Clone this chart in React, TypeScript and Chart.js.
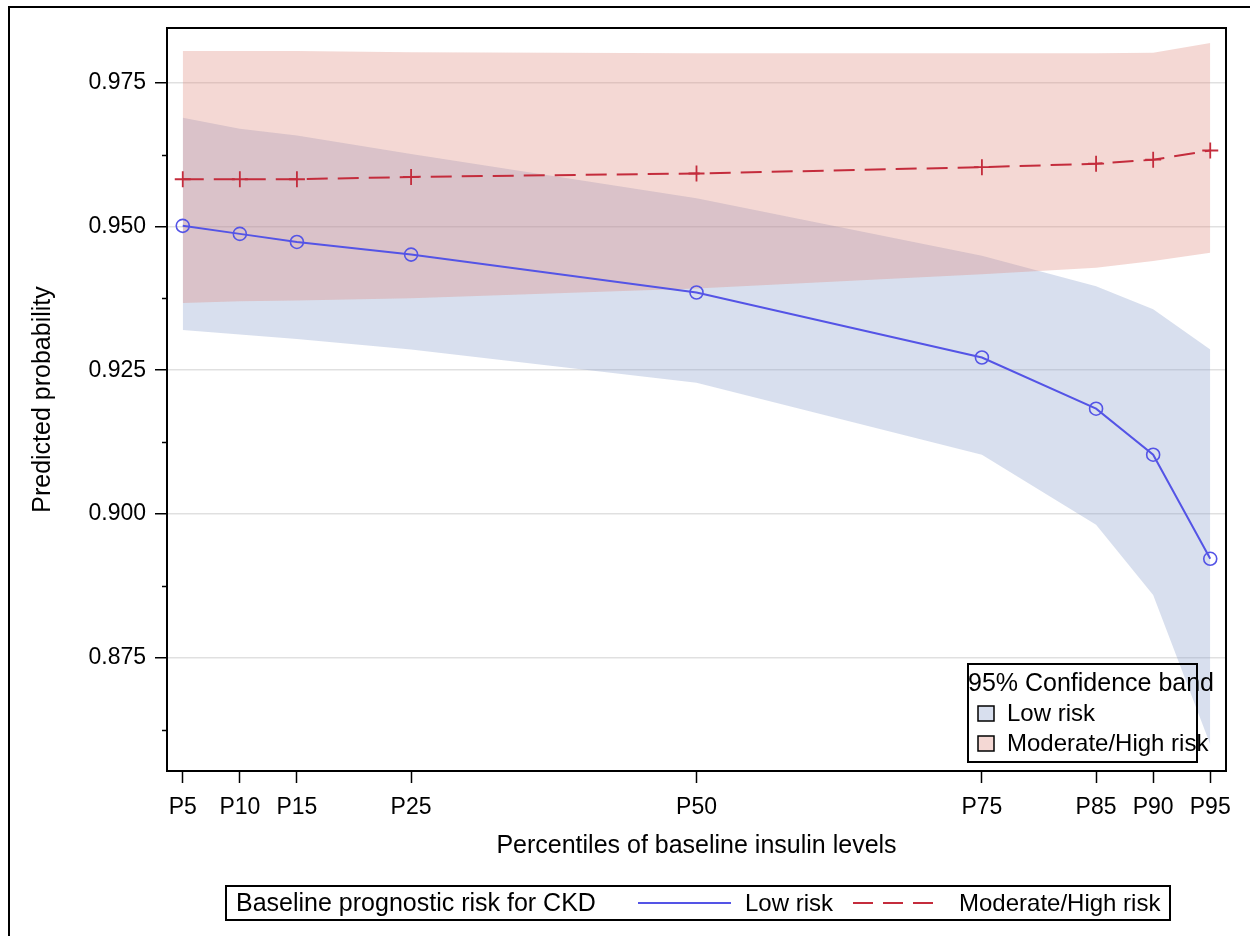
import React, { useEffect, useRef } from "react";
import { Chart, registerables } from "chart.js";

Chart.register(...registerables);

// ---- data ----
const percentiles = [5, 10, 15, 25, 50, 75, 85, 90, 95];
const percentileLabels = ["P5", "P10", "P15", "P25", "P50", "P75", "P85", "P90", "P95"];

const lowRisk = [0.9501, 0.9487, 0.9473, 0.9451, 0.9385, 0.9272, 0.9183, 0.9103, 0.8922];
const lowUpper = [0.9689, 0.967, 0.9658, 0.9626, 0.9549, 0.9449, 0.9396, 0.9356, 0.9286];
const lowLower = [0.932, 0.9312, 0.9304, 0.9286, 0.9228, 0.9103, 0.8981, 0.8859, 0.8599];

const modRisk = [0.9582, 0.9582, 0.9582, 0.9586, 0.9592, 0.9603, 0.9609, 0.9616, 0.9632];
const modUpper = [0.9805, 0.9805, 0.9805, 0.9803, 0.9801, 0.9801, 0.9801, 0.9802, 0.9819];
const modLower = [0.9367, 0.937, 0.9371, 0.9375, 0.9392, 0.9417, 0.9428, 0.944, 0.9454];

const yMajorTicks = [0.875, 0.9, 0.925, 0.95, 0.975];
const yMinorTicks = [0.8625, 0.8875, 0.9125, 0.9375, 0.9625];

const xTitle = "Percentiles of baseline insulin levels";
const yTitle = "Predicted probability";
const bandLegendTitle = "95% Confidence band";
const groupLegendTitle = "Baseline prognostic risk for CKD";
const groupNames = ["Low risk", "Moderate/High risk"];

// ---- styles ----
const FONT = '"Liberation Sans", Arial, sans-serif';
const LOW_LINE = "rgb(84,84,230)";
const MOD_LINE = "rgb(196,44,60)";
const LOW_BAND = "rgba(133,155,202,0.32)";
const MOD_BAND = "rgba(221,133,121,0.32)";
const LOW_SWATCH = "rgb(216,223,238)";
const MOD_SWATCH = "rgb(244,216,212)";

const pts = (vals: number[]) => percentiles.map((p, i) => ({ x: p, y: vals[i] }));

const decorPlugin = {
  id: "decor",
  afterDraw(chart: any) {
    const ctx = chart.ctx as CanvasRenderingContext2D;
    const a = chart.chartArea;
    const yScale = chart.scales.y;
    ctx.save();
    // outer frame
    ctx.strokeStyle = "#000";
    ctx.lineWidth = 2;
    ctx.strokeRect(9, 7, 1400, 1100);
    // plot frame
    ctx.strokeRect(a.left, a.top, a.right - a.left, a.bottom - a.top);
    // minor y ticks
    ctx.lineWidth = 1.5;
    yMinorTicks.forEach((v) => {
      const py = Math.round(yScale.getPixelForValue(v)) + 0.5;
      ctx.beginPath();
      ctx.moveTo(a.left - 5, py);
      ctx.lineTo(a.left, py);
      ctx.stroke();
    });

    // inner legend (confidence band)
    ctx.fillStyle = "#000";
    ctx.textBaseline = "middle";
    ctx.textAlign = "left";
    ctx.lineWidth = 2;
    ctx.strokeRect(968, 664, 229, 98);
    ctx.font = `25px ${FONT}`;
    ctx.fillText(bandLegendTitle, 968, 684);
    ctx.lineWidth = 1.5;
    ctx.fillStyle = LOW_SWATCH;
    ctx.fillRect(978, 706, 16, 15);
    ctx.strokeRect(978, 706, 16, 15);
    ctx.fillStyle = MOD_SWATCH;
    ctx.fillRect(978, 736, 16, 15);
    ctx.strokeRect(978, 736, 16, 15);
    ctx.fillStyle = "#000";
    ctx.font = `24px ${FONT}`;
    ctx.fillText(groupNames[0], 1007, 714);
    ctx.fillText(groupNames[1], 1007, 744);

    // bottom legend
    ctx.lineWidth = 2;
    ctx.strokeRect(226, 886, 944, 34);
    ctx.font = `25px ${FONT}`;
    ctx.fillText(groupLegendTitle, 236, 904);
    ctx.font = `24px ${FONT}`;
    ctx.strokeStyle = LOW_LINE;
    ctx.lineWidth = 2;
    ctx.beginPath();
    ctx.moveTo(638, 903);
    ctx.lineTo(731, 903);
    ctx.stroke();
    ctx.fillText(groupNames[0], 745, 904);
    ctx.strokeStyle = MOD_LINE;
    ctx.setLineDash([20, 10]);
    ctx.beginPath();
    ctx.moveTo(853, 903);
    ctx.lineTo(940, 903);
    ctx.stroke();
    ctx.setLineDash([]);
    ctx.fillText(groupNames[1], 959, 904);
    ctx.restore();
  },
};

export default function App() {
  const ref = useRef<HTMLCanvasElement | null>(null);

  useEffect(() => {
    if (!ref.current) return;
    Chart.defaults.font.family = FONT;
    const chart = new Chart(ref.current, {
      type: "line",
      data: {
        datasets: [
          {
            label: "Low band upper",
            data: pts(lowUpper),
            borderWidth: 0,
            pointRadius: 0,
            backgroundColor: LOW_BAND,
            fill: "+1",
            order: 3,
            tension: 0,
          },
          {
            label: "Low band lower",
            data: pts(lowLower),
            borderWidth: 0,
            pointRadius: 0,
            fill: false,
            order: 3,
            tension: 0,
          },
          {
            label: "Mod band upper",
            data: pts(modUpper),
            borderWidth: 0,
            pointRadius: 0,
            backgroundColor: MOD_BAND,
            fill: "+1",
            order: 2,
            tension: 0,
          },
          {
            label: "Mod band lower",
            data: pts(modLower),
            borderWidth: 0,
            pointRadius: 0,
            fill: false,
            order: 2,
            tension: 0,
          },
          {
            label: groupNames[1],
            data: pts(modRisk),
            borderColor: MOD_LINE,
            borderWidth: 2,
            borderDash: [21, 10],
            pointStyle: "cross",
            pointRadius: 8,
            pointBorderWidth: 1.8,
            pointBorderColor: MOD_LINE,
            pointBackgroundColor: "transparent",
            fill: false,
            order: 1,
            tension: 0,
          },
          {
            label: groupNames[0],
            data: pts(lowRisk),
            borderColor: LOW_LINE,
            borderWidth: 2,
            pointStyle: "circle",
            pointRadius: 6.5,
            pointBorderWidth: 1.6,
            pointBorderColor: LOW_LINE,
            pointBackgroundColor: "transparent",
            fill: false,
            order: 0,
            tension: 0,
          },
        ],
      },
      options: {
        responsive: false,
        animation: false,
        devicePixelRatio: 1,
        layout: { padding: { left: 0, right: 24, top: 28, bottom: 0 } },
        plugins: {
          legend: { display: false },
          tooltip: { enabled: false },
        },
        scales: {
          x: {
            type: "linear",
            min: 3.62,
            max: 96.38,
            afterBuildTicks: (s: any) => {
              s.ticks = percentiles.map((v) => ({ value: v }));
            },
            afterFit: (s: any) => {
              s.height = 165;
            },
            ticks: {
              autoSkip: false,
              maxRotation: 0,
              color: "#000",
              padding: 11,
              font: { size: 23, family: FONT },
              callback: (v: any) => percentileLabels[percentiles.indexOf(Number(v))] ?? "",
            },
            grid: {
              drawOnChartArea: false,
              tickLength: 12,
              tickColor: "#000",
              tickWidth: 1.5,
            },
            border: { color: "#000", width: 2 },
            title: {
              display: true,
              text: xTitle,
              color: "#000",
              font: { size: 25, family: FONT },
              padding: { top: 0, bottom: 75 },
            },
          },
          y: {
            type: "linear",
            min: 0.8553,
            max: 0.9845,
            afterBuildTicks: (s: any) => {
              s.ticks = yMajorTicks.map((v) => ({ value: v }));
            },
            afterFit: (s: any) => {
              s.width = 167;
            },
            ticks: {
              color: "#000",
              padding: 9,
              font: { size: 23, family: FONT },
              callback: (v: any) => Number(v).toFixed(3),
            },
            grid: {
              color: "rgba(0,0,0,0.12)",
              lineWidth: 1.5,
              tickLength: 12,
              tickColor: "#000",
              tickWidth: 1.5,
            },
            border: { color: "#000", width: 2 },
            title: {
              display: true,
              text: yTitle,
              color: "#000",
              font: { size: 25, family: FONT },
              padding: { top: 28, bottom: 0 },
            },
          },
        },
      },
      plugins: [decorPlugin],
    });
    return () => chart.destroy();
  }, []);

  return (
    <div
      style={{
        position: "absolute",
        left: 0,
        top: 0,
        width: 1250,
        height: 936,
        overflow: "hidden",
        background: "#fff",
      }}
    >
      <canvas ref={ref} width={1250} height={936} style={{ display: "block" }} />
    </div>
  );
}
